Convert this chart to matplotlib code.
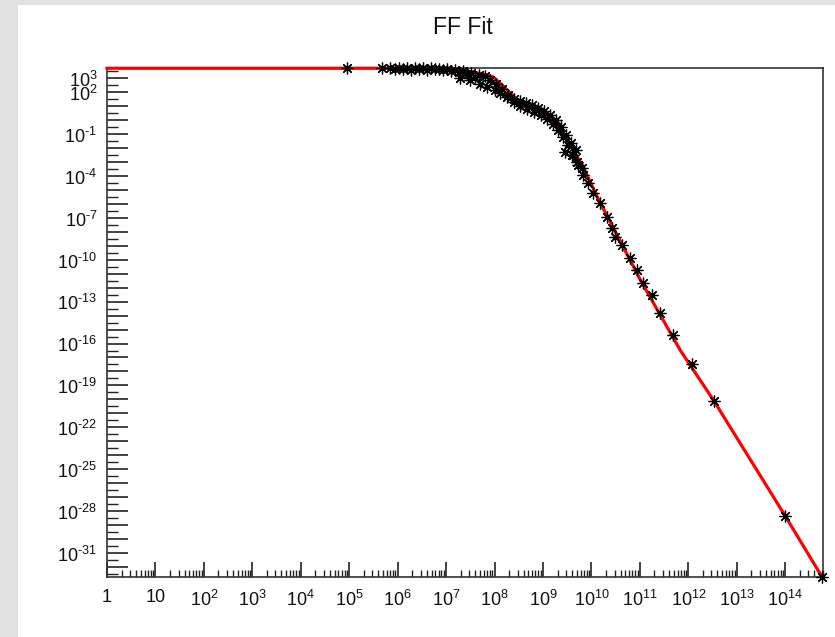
import numpy as np
import matplotlib
matplotlib.use("Agg")
import matplotlib.pyplot as plt
from matplotlib.patches import Rectangle
from matplotlib.ticker import FixedLocator, NullFormatter

plt.rcParams['font.family'] = ['Liberation Sans', 'DejaVu Sans']
plt.rcParams['mathtext.fontset'] = 'custom'
plt.rcParams['mathtext.rm'] = 'Liberation Sans'
plt.rcParams['mathtext.it'] = 'Liberation Sans'
plt.rcParams['mathtext.fallback'] = 'stixsans'

title = "FF Fit"

# measured points (log10 x, log10 y)
pts_logx = [4.96, 5.68, 5.84, 5.95, 6.03, 6.11, 6.19, 6.28, 6.36, 6.44, 6.52, 6.61, 6.69, 6.77,
            6.86, 6.94, 7.02, 7.10, 7.19, 7.27, 7.35, 7.43, 7.52, 7.60, 7.68,
            7.29, 7.50, 7.70, 7.85, 8.00, 8.11, 8.26, 8.40, 8.53, 8.67, 8.82, 8.96, 9.09,
            9.21, 9.31, 9.42, 9.52, 9.62, 9.73, 9.83, 9.93,
            7.80, 7.91, 8.03, 8.16, 8.28, 8.40, 8.53, 8.65, 8.78, 8.90, 9.02, 9.15, 9.27,
            9.37, 9.48, 9.58, 9.68,
            9.46, 9.60, 9.70, 9.81, 10.04, 10.18, 10.32, 10.43, 10.49, 10.63, 10.80,
            10.94, 11.07, 11.25, 11.42, 11.69, 12.08, 12.53, 14.00, 14.76]
pts_logy = [3.70, 3.70, 3.70, 3.65, 3.70, 3.65, 3.70, 3.58, 3.70, 3.65, 3.70, 3.58, 3.70, 3.65,
            3.65, 3.58, 3.65, 3.51, 3.58, 3.44, 3.51, 3.29, 3.37, 3.08, 3.22,
            3.01, 2.87, 2.58, 2.36, 2.15, 1.93, 1.65, 1.29, 1.00, 0.79, 0.57, 0.36, 0.07,
            -0.28, -0.71, -1.21, -1.79, -2.50, -3.22, -3.93, -4.51,
            3.15, 2.87, 2.58, 2.22, 1.79, 1.51, 1.36, 1.22, 1.08, 0.86, 0.65, 0.36, 0.00,
            -0.50, -1.07, -1.64, -2.15,
            -2.29, -2.50, -3.00, -3.43, -5.22, -5.94, -6.94, -7.73, -8.37, -8.95, -9.88,
            -10.74, -11.67, -12.52, -13.81, -15.39, -17.46, -20.11, -28.34, -32.71]

# fit curve (log10 x, log10 y)
fit_logx = [0.0, 7.04, 7.43, 7.76, 7.97, 8.22, 8.47, 8.80, 9.15, 9.50, 9.83, 10.12,
            11.01, 11.83, 12.53, 14.00, 14.76]
fit_logy = [3.70, 3.70, 3.51, 3.29, 3.08, 2.29, 1.43, 0.93, 0.22, -1.43, -3.36, -5.51,
            -11.45, -16.46, -20.11, -28.34, -32.71]

xlim_log = (0.0, 14.78)
ylim_log = (-32.71, 3.72)
x_label_exps = list(range(0, 15))
y_label_exps = [3, 2, -1, -4, -7, -10, -13, -16, -19, -22, -25, -28, -31]

W, H = 835, 637
fig = plt.figure(figsize=(W / 100, H / 100), dpi=100)
fig.patch.set_facecolor('#e1e1e1')
bg = Rectangle((18 / W, 0), 1 - 18 / W, (H - 5) / H,
               transform=fig.transFigure, facecolor='white',
               edgecolor='none', zorder=-10)
fig.patches.append(bg)

ax = fig.add_axes([107 / W, (H - 577) / H, (823 - 107) / W, (577 - 68) / H])
ax.set_zorder(5)
ax.set_facecolor('white')
ax.set_xscale('log')
ax.set_yscale('log')
ax.set_xlim(10 ** xlim_log[0], 10 ** xlim_log[1])
ax.set_ylim(10 ** ylim_log[0], 10 ** ylim_log[1])

fx = 10 ** np.array(fit_logx)
fy = 10 ** np.array(fit_logy)
ax.plot(fx, fy, color='#ff0000', lw=2.3, zorder=3, clip_on=False)

px = 10 ** np.array(pts_logx)
py = 10 ** np.array(pts_logy)
ax.plot(px, py, linestyle='none', marker=(8, 2, 0), markersize=8.5, color='black',
        mew=0.9, zorder=4, clip_on=False)

for s in ax.spines.values():
    s.set_linewidth(1.2)
    s.set_color('#333333')

LABEL_FS = 13
TXT_COLOR = '#111111'


def power_text(e):
    s = str(e).replace('-', '\u2010')
    return r'$\mathregular{10^{%s}}$' % s


# x ticks
xmaj = [10.0 ** e for e in x_label_exps]
ax.xaxis.set_major_locator(FixedLocator(xmaj))


def xlab(e):
    if e == 0:
        return '1'
    if e == 1:
        return '10'
    return power_text(e)


ax.set_xticklabels([xlab(e) for e in x_label_exps])
xmin_t = []
for e in range(0, 15):
    for m in range(2, 10):
        v = m * 10.0 ** e
        if v < 10 ** xlim_log[1]:
            xmin_t.append(v)
ax.xaxis.set_minor_locator(FixedLocator(xmin_t))
ax.xaxis.set_minor_formatter(NullFormatter())
ax.tick_params(axis='x', which='major', direction='in', length=11, width=1.2,
               labelsize=LABEL_FS, pad=9, color='#222222', labelcolor=TXT_COLOR)
ax.tick_params(axis='x', which='minor', direction='in', length=5, width=1.0, color='#222222')

# y ticks
ymaj = [10.0 ** e for e in range(-32, 4)]
ax.yaxis.set_major_locator(FixedLocator(ymaj))
ax.yaxis.set_major_formatter(NullFormatter())
ymin_t = [10.0 ** (e + 0.5) for e in range(-33, 4) if ylim_log[0] < e + 0.5 < ylim_log[1]]
ax.yaxis.set_minor_locator(FixedLocator(ymin_t))
ax.yaxis.set_minor_formatter(NullFormatter())
ax.tick_params(axis='y', which='major', direction='in', length=15, width=1.2, color='#222222')
ax.tick_params(axis='y', which='minor', direction='in', length=8, width=1.0, color='#222222')

ytrans = ax.get_yaxis_transform()
for e in y_label_exps:
    ax.annotate(power_text(e), xy=(0, 10.0 ** e), xycoords=ytrans,
                xytext=(-7, -2), textcoords='offset points',
                ha='right', va='center', fontsize=LABEL_FS, color=TXT_COLOR,
                annotation_clip=False)

fig.text(463 / W, 1 - 27 / H, title, ha='center', va='center', fontsize=16.5,
         color=TXT_COLOR)

fig.savefig('out.png', dpi=100, facecolor=fig.get_facecolor())
